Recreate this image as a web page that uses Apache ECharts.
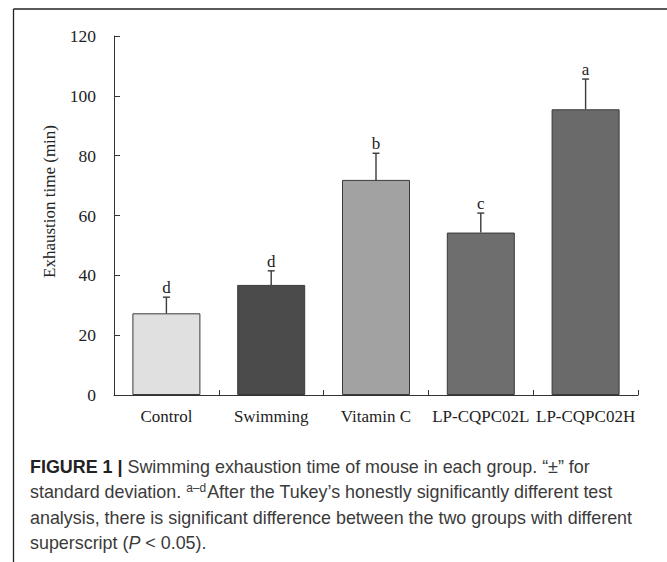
<!DOCTYPE html>
<html>
<head>
<meta charset="utf-8">
<script src="https://cdn.jsdelivr.net/npm/echarts@6/dist/echarts.min.js"></script>
<style>
  html, body { margin: 0; padding: 0; background: #fff; }
  #chart { width: 667px; height: 562px; }
</style>
</head>
<body>
<div id="chart"></div>
<script>
// ---- Data ----
const categories = ['Control', 'Swimming', 'Vitamin C', 'LP-CQPC02L', 'LP-CQPC02H'];
const meanValues = [27.3, 36.8, 71.9, 54.3, 95.5];
const sdValues = [5.4, 4.7, 8.9, 6.5, 10.1];
const groupLetters = ['d', 'd', 'b', 'c', 'a'];
const barColors = ['#e0e0e0', '#4b4b4b', '#a2a2a2', '#6e6e6e', '#6a6a6a'];
const yAxisTitle = 'Exhaustion time (min)';
const yMin = 0, yMax = 120, yInterval = 20;

const serif = '"Liberation Serif", "Times New Roman", serif';
const sans = '"Liberation Sans", Arial, Helvetica, sans-serif';

const chart = echarts.init(document.getElementById('chart'), null, { renderer: 'svg' });

const captionText =
  '{b|FIGURE 1 |}{n| Swimming exhaustion time of mouse in each group. \u201C\u00B1\u201D for}\n' +
  '{n|standard deviation. }{sup|a\u2013d}{n|After the Tukey\u2019s honestly significantly different test}\n' +
  '{n|analysis, there is significant difference between the two groups with different}\n' +
  '{n|superscript (}{i|P}{n| < 0.05).}';

const capFont = 17.9;

const option = {
  backgroundColor: '#ffffff',
  animation: false,
  grid: { left: 114, top: 36, right: 29, bottom: 167 },
  xAxis: {
    type: 'category',
    data: categories,
    axisLine: { show: true, lineStyle: { color: '#333', width: 1 } },
    axisTick: { show: true, inside: true, length: 5, lineStyle: { color: '#333' } },
    axisLabel: { margin: 13, fontFamily: serif, fontSize: 17, color: '#222', interval: 0 },
    splitLine: { show: false }
  },
  yAxis: {
    type: 'value',
    min: yMin, max: yMax, interval: yInterval,
    name: yAxisTitle,
    nameLocation: 'middle',
    nameGap: 56,
    nameTextStyle: { fontFamily: serif, fontSize: 17, color: '#222', padding: [0, 0, 0, 28] },
    axisLine: { show: true, lineStyle: { color: '#333', width: 1 } },
    axisTick: { show: true, inside: true, length: 6, lineStyle: { color: '#333' } },
    axisLabel: { margin: 18, fontFamily: serif, fontSize: 17.5, color: '#222' },
    splitLine: { show: false }
  },
  series: [
    {
      type: 'bar',
      barWidth: 68,
      data: meanValues.map((v, i) => ({
        value: v,
        itemStyle: { color: barColors[i], borderColor: '#3a3a3a', borderWidth: 1 }
      })),
      z: 2
    },
    {
      type: 'custom',
      z: 3,
      data: meanValues.map((v, i) => [i, v, sdValues[i]]),
      renderItem: function (params, api) {
        const idx = params.dataIndex;
        const xi = api.value(0), m = api.value(1), sd = api.value(2);
        const base = api.coord([xi, m]);
        const top = api.coord([xi, m + sd]);
        const cap = 3.5;
        const st = { stroke: '#3a3a3a', lineWidth: 1.4 };
        return {
          type: 'group',
          children: [
            { type: 'line', shape: { x1: base[0], y1: base[1], x2: top[0], y2: top[1] }, style: st },
            { type: 'line', shape: { x1: top[0] - cap, y1: top[1], x2: top[0] + cap, y2: top[1] }, style: st },
            { type: 'text', x: top[0], y: top[1] - 1,
              style: { text: groupLetters[idx], fontFamily: serif, fontSize: 17, fill: '#222',
                       align: 'center', verticalAlign: 'bottom' } }
          ]
        };
      }
    }
  ],
  graphic: [
    { type: 'line', shape: { x1: 13.5, y1: 9, x2: 667, y2: 9 }, style: { stroke: '#222', lineWidth: 1.3 } },
    { type: 'line', shape: { x1: 13.5, y1: 9, x2: 13.5, y2: 562 }, style: { stroke: '#222', lineWidth: 1.3 } },
    {
      type: 'text',
      left: 30, top: 454,
      style: {
        text: captionText,
        fontFamily: sans,
        fontSize: capFont,
        lineHeight: 25.5,
        fill: '#3a3a3a',
        rich: {
          b: { fontFamily: sans, fontSize: capFont, fontWeight: 'bold', fill: '#222', lineHeight: 25.5 },
          n: { fontFamily: sans, fontSize: capFont, fill: '#3a3a3a', lineHeight: 25.5 },
          i: { fontFamily: sans, fontSize: capFont, fontStyle: 'italic', fill: '#3a3a3a', lineHeight: 25.5 },
          sup: { fontFamily: sans, fontSize: 12, fill: '#3a3a3a', lineHeight: 12, padding: [0, 1, 9, 0], verticalAlign: 'middle' }
        }
      }
    }
  ]
};

chart.setOption(option);
</script>
</body>
</html>
